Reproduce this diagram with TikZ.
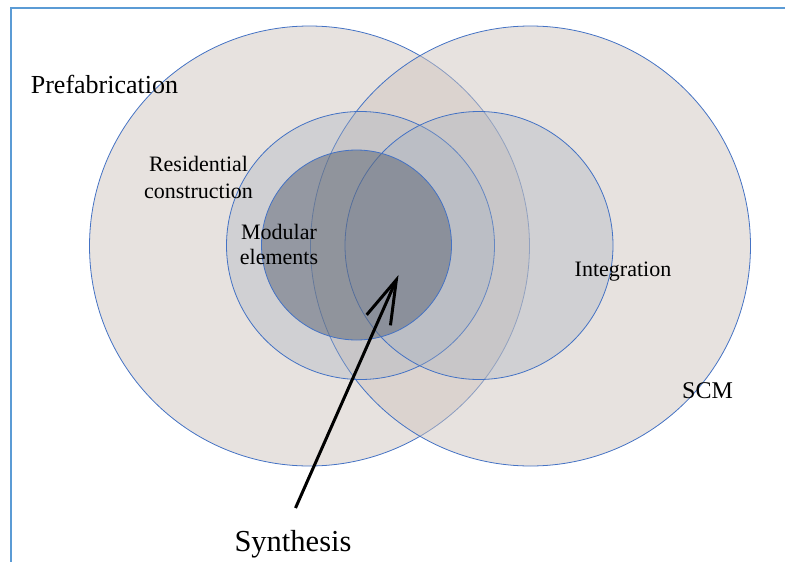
\documentclass[tikz,border=0pt]{standalone}
\usepackage{fontspec}
\setmainfont{Liberation Serif}
\usetikzlibrary{arrows.meta}

\definecolor{ringblue}{RGB}{68,114,196}
\definecolor{frameblue}{RGB}{91,155,213}
\definecolor{outerfill}{RGB}{207,197,191}
\definecolor{innerfill}{RGB}{165,175,190}
\definecolor{corefill}{RGB}{100,108,122}

\tikzset{
  ring/.style={circle, draw=ringblue, line width=0.8pt, inner sep=0pt},
  outerring/.style={ring, fill=outerfill, fill opacity=0.5, minimum size=440pt},
  innerring/.style={ring, fill=innerfill, fill opacity=0.35, minimum size=268pt},
  corering/.style={ring, fill=corefill, fill opacity=0.55, minimum size=190pt},
  label/.style={inner sep=0pt, text=black, align=center},
  synarrow/.style={line width=3pt, -{Straight Barb[length=44pt,width=26pt,line width=3pt]}}
}

\begin{document}
\begin{tikzpicture}[x=1pt,y=-1pt]
\useasboundingbox (0,0) rectangle (785,562);

% frame edges (left and top)
\draw[frameblue, line width=1.8pt] (11,562) -- (11,8) -- (785,8);

% overlapping sets
\node[outerring] (prefab) at (309.5,246) {};
\node[outerring] (scm) at (530.5,246) {};
\node[innerring] (resid) at (360.5,245.5) {};
\node[innerring] (integ) at (479,245.5) {};
\node[corering] (modular) at (356.5,245) {};

% labels
\node[label, anchor=base, font=\fontsize{26}{30}\selectfont] (tprefab) at (104.5,93) {Prefabrication};
\node[label, font=\fontsize{22}{26.7}\selectfont] (tresid) at (198.5,177.5) {Residential\\construction};
\node[label, font=\fontsize{22}{25.7}\selectfont] (tmod) at (279,244.6) {Modular\\elements};
\node[label, anchor=base, font=\fontsize{22}{26}\selectfont] (tinteg) at (623,276) {Integration};
\node[label, anchor=base, font=\fontsize{24}{28}\selectfont] (tscm) at (707.5,398.3) {SCM};
\node[label, anchor=base, font=\fontsize{30.5}{34}\selectfont] (tsyn) at (293,551) {Synthesis};

% arrow pointing into the common core
\coordinate (tail) at (295.5,508);
\coordinate (tip) at (398.5,275);
\draw[synarrow] (tail) -- (tip);
\end{tikzpicture}
\end{document}
